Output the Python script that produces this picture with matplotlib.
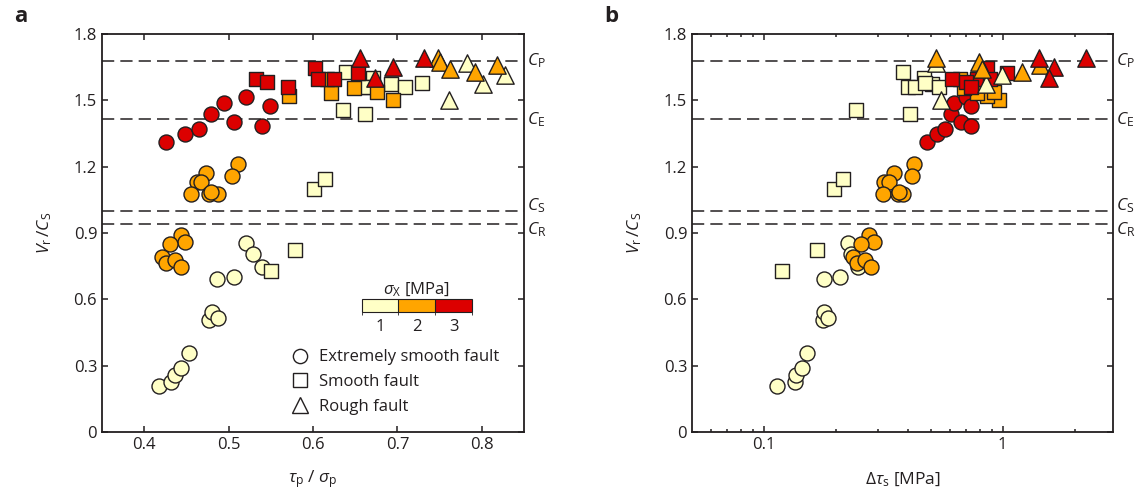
import numpy as np
import matplotlib.pyplot as plt
from matplotlib.colors import ListedColormap, BoundaryNorm
from matplotlib.lines import Line2D
from matplotlib.ticker import FixedLocator, NullFormatter, FuncFormatter
import matplotlib.transforms as mtransforms
import matplotlib as mpl

plt.rcParams['font.family'] = ['Open Sans', 'DejaVu Sans']
plt.rcParams['mathtext.fontset'] = 'custom'
plt.rcParams['mathtext.rm'] = 'Open Sans'
plt.rcParams['mathtext.it'] = 'Open Sans:italic'
plt.rcParams['text.color'] = '#231f20'
plt.rcParams['axes.labelcolor'] = '#231f20'
plt.rcParams['xtick.color'] = '#231f20'
plt.rcParams['ytick.color'] = '#231f20'

# extremely smooth fault (circles): sigma_X [MPa], tau_p/sigma_p, delta tau_s [MPa], Vr/Cs
es_sigma = [1, 1, 1, 1, 1, 1, 1, 1, 1, 1, 1, 1, 1,
            2, 2, 2, 2, 2, 2, 2, 2, 2, 2, 2, 2, 2, 2, 2, 2,
            3, 3, 3, 3, 3, 3, 3, 3, 3]
es_ratio = [0.417, 0.432, 0.437, 0.443, 0.453, 0.477, 0.480, 0.488, 0.486, 0.506, 0.520, 0.529, 0.540,
            0.443, 0.448, 0.431, 0.421, 0.426, 0.436, 0.444, 0.511, 0.504, 0.473, 0.462, 0.467, 0.456, 0.477, 0.487, 0.479,
            0.426, 0.448, 0.465, 0.479, 0.506, 0.540, 0.494, 0.521, 0.549]
es_dtau = [0.113, 0.135, 0.136, 0.144, 0.151, 0.176, 0.179, 0.186, 0.179, 0.208, 0.224, 0.231, 0.247,
           0.276, 0.290, 0.255, 0.235, 0.245, 0.266, 0.281, 0.426, 0.419, 0.351, 0.317, 0.335, 0.314, 0.363, 0.384, 0.368,
           0.481, 0.529, 0.571, 0.605, 0.667, 0.739, 0.625, 0.699, 0.734]
es_vr = [0.208, 0.228, 0.258, 0.288, 0.359, 0.505, 0.542, 0.517, 0.691, 0.699, 0.857, 0.804, 0.748,
         0.891, 0.861, 0.849, 0.790, 0.763, 0.778, 0.745, 1.213, 1.160, 1.171, 1.130, 1.130, 1.077, 1.077, 1.077, 1.087,
         1.311, 1.347, 1.370, 1.439, 1.401, 1.385, 1.490, 1.514, 1.476]

# smooth fault (squares)
sm_sigma = [1, 1, 1, 1, 1, 1, 1, 1, 1, 1, 1, 1, 1,
            2, 2, 2, 2, 2, 2,
            3, 3, 3, 3, 3, 3, 3]
sm_ratio = [0.550, 0.579, 0.601, 0.614, 0.636, 0.661, 0.639, 0.671, 0.692, 0.665, 0.709, 0.729, 0.660,
            0.695, 0.572, 0.621, 0.676, 0.648, 0.617,
            0.602, 0.653, 0.533, 0.606, 0.625, 0.546, 0.570]
sm_dtau = [0.119, 0.167, 0.196, 0.215, 0.243, 0.410, 0.384, 0.468, 0.508, 0.402, 0.428, 0.472, 0.541,
           0.963, 0.862, 0.782, 0.917, 0.686, 0.660,
           0.862, 1.044, 0.615, 0.782, 0.888, 0.700, 0.734]
sm_vr = [0.729, 0.824, 1.100, 1.145, 1.457, 1.439, 1.628, 1.600, 1.575, 1.560, 1.560, 1.578, 1.560,
         1.500, 1.518, 1.534, 1.538, 1.554, 1.596,
         1.648, 1.625, 1.598, 1.595, 1.595, 1.581, 1.562]

# rough fault (triangles)
ro_sigma = [1, 1, 1, 1, 2, 2, 2, 2, 2, 3, 3, 3, 3]
ro_ratio = [0.783, 0.761, 0.801, 0.828, 0.748, 0.751, 0.762, 0.792, 0.818, 0.656, 0.732, 0.695, 0.673]
ro_dtau = [0.524, 0.553, 0.848, 0.995, 0.524, 0.795, 0.821, 1.206, 1.438, 1.415, 2.239, 1.634, 1.557]
ro_vr = [1.670, 1.503, 1.572, 1.615, 1.691, 1.675, 1.643, 1.628, 1.660, 1.691, 1.691, 1.652, 1.600]

# reference wave speeds, normalised by C_S
ref_names = [r'$C_{\mathrm{P}}$', r'$C_{\mathrm{E}}$', r'$C_{\mathrm{S}}$', r'$C_{\mathrm{R}}$']
ref_vals = [1.68, 1.414, 1.0, 0.94]
ref_label_shift = [0, 0, 0.025, -0.025]

sigma_levels = [1, 2, 3]
sigma_colors = ['#ffffc6', '#ffa500', '#dc0000']
edge = '#231f20'

faults = [
    ('o', 10.8, es_sigma, es_ratio, es_dtau, es_vr),
    ('s', 10.0, sm_sigma, sm_ratio, sm_dtau, sm_vr),
    ('^', 12.5, ro_sigma, ro_ratio, ro_dtau, ro_vr),
]

fig = plt.figure(figsize=(11.36, 4.93), dpi=100)
ax1 = fig.add_axes([0.0898, 0.1237, 0.3715, 0.8073])
ax2 = fig.add_axes([0.6092, 0.1237, 0.3706, 0.8073])


def draw(ax, use_dtau):
    for v in ref_vals:
        ax.axhline(v, color='#231f20', lw=1.1, ls=(0, (8, 4)), zorder=1)
    for marker, ms, sig, ratio, dtau, vr in faults:
        sig = np.array(sig)
        xs = np.array(dtau if use_dtau else ratio)
        vr = np.array(vr)
        for lev, col in zip(sigma_levels, sigma_colors):
            m = sig == lev
            ax.scatter(xs[m], vr[m], s=ms ** 2, marker=marker, facecolor=col,
                       edgecolor=edge, linewidth=1.0, zorder=3)
    ax.set_ylim(0, 1.8)
    ax.set_yticks([0, 0.3, 0.6, 0.9, 1.2, 1.5, 1.8])
    ax.set_yticklabels(['0', '0.3', '0.6', '0.9', '1.2', '1.5', '1.8'])
    ax.tick_params(which='both', direction='in', top=True, right=True,
                   labelsize=12, width=1.1)
    ax.tick_params(which='major', length=4)
    ax.tick_params(which='minor', length=2.5)
    for sp in ax.spines.values():
        sp.set_linewidth(1.3)
        sp.set_color('#231f20')
    ax.set_ylabel(r'$V_{\mathrm{r}}\,/C_{\mathrm{S}}$', fontsize=12.5, labelpad=14)
    trans = mtransforms.blended_transform_factory(ax.transAxes, ax.transData)
    for name, v, dy in zip(ref_names, ref_vals, ref_label_shift):
        ax.text(1.008, v + dy, name, transform=trans, ha='left', va='center',
                fontsize=12.5, clip_on=False)


draw(ax1, False)
ax1.set_xlim(0.35, 0.85)
ax1.set_xticks([0.4, 0.5, 0.6, 0.7, 0.8])
ax1.set_xticklabels(['0.4', '0.5', '0.6', '0.7', '0.8'])
ax1.set_xlabel(r'$\tau_{\mathrm{p}}$ / $\sigma_{\mathrm{p}}$', fontsize=12.5, labelpad=11)

draw(ax2, True)
ax2.set_xscale('log')
ax2.set_xlim(0.05, 2.9)
ax2.xaxis.set_major_locator(FixedLocator([0.1, 1]))
ax2.xaxis.set_major_formatter(FuncFormatter(lambda v, p: '0.1' if v < 0.5 else '1'))
ax2.xaxis.set_minor_locator(FixedLocator([0.06, 0.07, 0.08, 0.09, 0.2, 0.3, 0.4, 0.5,
                                          0.6, 0.7, 0.8, 0.9, 2]))
ax2.xaxis.set_minor_formatter(NullFormatter())
ax2.set_xlabel(r'$\Delta\tau_{\mathrm{s}}$ [MPa]', fontsize=12.5, labelpad=13)

# stress colour scale
cax = ax1.inset_axes([0.615, 0.302, 0.262, 0.031])
cmap = ListedColormap(sigma_colors)
norm = BoundaryNorm([0.5, 1.5, 2.5, 3.5], cmap.N)
cb = fig.colorbar(mpl.cm.ScalarMappable(norm=norm, cmap=cmap), cax=cax,
                  orientation='horizontal', ticks=sigma_levels, drawedges=True)
cb.outline.set_linewidth(0.8)
cb.outline.set_edgecolor('#231f20')
cb.dividers.set_color('#231f20')
cb.dividers.set_linewidth(0.8)
cax.tick_params(length=0, labelsize=12, pad=5)
cax.set_title(r'$\sigma_{\mathrm{X}}$ [MPa]', fontsize=12, pad=4)

handles = [Line2D([], [], ls='none', marker=mk, markersize=ms * 0.95, markerfacecolor='white',
                  markeredgecolor=edge, markeredgewidth=1.0)
           for mk, ms, *_ in faults]
ax1.legend(handles, ['Extremely smooth fault', 'Smooth fault', 'Rough fault'],
           loc='lower left', bbox_to_anchor=(0.418, 0.01), frameon=False, fontsize=12,
           handlelength=1.0, handletextpad=0.65, labelspacing=0.52, borderpad=0.3)

fig.text(0.012, 0.955, 'a', fontsize=16, fontweight='bold')
fig.text(0.532, 0.955, 'b', fontsize=16, fontweight='bold')

fig.savefig('out.png', dpi=100)
